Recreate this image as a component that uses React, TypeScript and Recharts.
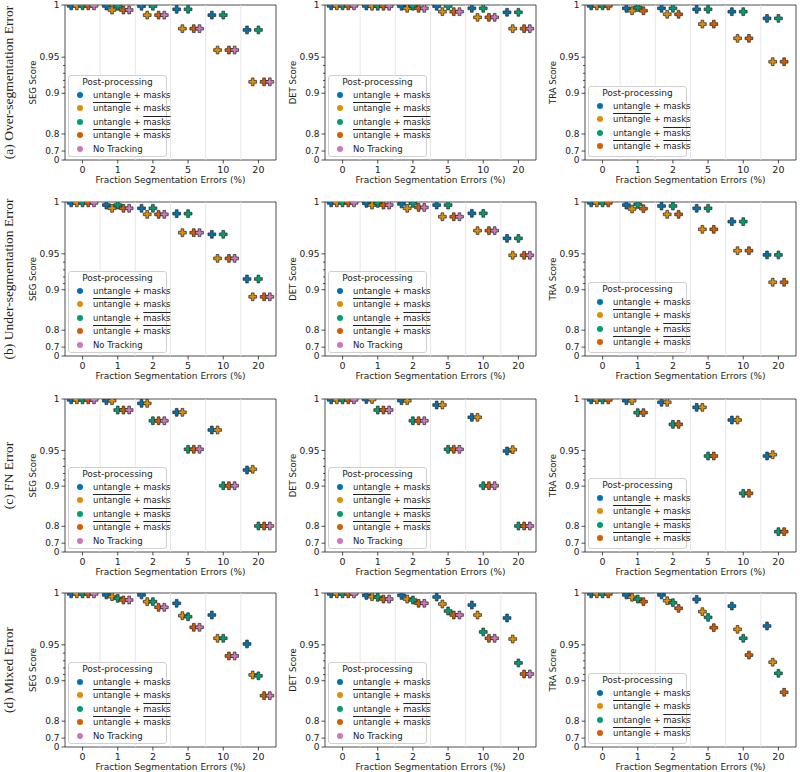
import React from 'react';
import { ScatterChart, Scatter, XAxis, YAxis, ReferenceLine, ReferenceArea, Label, Legend } from 'recharts';

const categories = ['0', '1', '2', '5', '10', '20'];
const seriesLabels = ['untangle + masks', 'untangle + masks', 'untangle + masks', 'untangle + masks', 'No Tracking'];
const overUntangle = [false, true, false, true, false];
const overMasks = [false, false, true, true, false];
const colors = ['#0173b2', '#de8f05', '#029e73', '#d55e00', '#cc78bc'];
const yTickValues = [0, 0.7, 0.8, 0.9, 0.95, 1];
const yMinorTicks = [0.91, 0.92, 0.93, 0.94];
const rowTitles = ['(a) Over-segmentation Error', '(b) Under-segmentation Error', '(c) FN Error', '(d) Mixed Error'];
const metrics = ['SEG', 'DET', 'TRA'];

// each panel: one row per series (blue, orange, green, red, pink), one value per category
const overSEG = [
  [0.9993, 0.9992, 0.999, 0.9965, 0.9916, 0.9783],
  [0.9993, 0.9959, 0.9916, 0.9795, 0.958, 0.918],
  [0.9993, 0.999, 0.999, 0.9965, 0.9916, 0.9783],
  [0.9993, 0.9959, 0.9916, 0.9795, 0.958, 0.918],
  [0.9993, 0.9959, 0.9916, 0.9795, 0.958, 0.918],
];
const overDET = [
  [0.9993, 0.9992, 0.999, 0.999, 0.9973, 0.994],
  [0.9993, 0.999, 0.9973, 0.9945, 0.9897, 0.9795],
  [0.9993, 0.999, 0.999, 0.9992, 0.9973, 0.994],
  [0.9993, 0.999, 0.9973, 0.9945, 0.9897, 0.9795],
  [0.9993, 0.999, 0.9973, 0.9945, 0.9897, 0.9795],
];
const overTRA = [
  [0.9993, 0.9973, 0.9973, 0.9965, 0.9945, 0.9888],
  [0.9993, 0.9953, 0.9923, 0.9837, 0.9702, 0.9446],
  [0.9993, 0.998, 0.9973, 0.9965, 0.9945, 0.9888],
  [0.9993, 0.9953, 0.9923, 0.9837, 0.9702, 0.9446],
];
const underSEG = [
  [0.9993, 0.9975, 0.9948, 0.9902, 0.971, 0.917],
  [0.9993, 0.9948, 0.9896, 0.9726, 0.9446, 0.8874],
  [0.9993, 0.9975, 0.9948, 0.9902, 0.971, 0.917],
  [0.9993, 0.9948, 0.9896, 0.9726, 0.9446, 0.8874],
  [0.9993, 0.9948, 0.9896, 0.9726, 0.9446, 0.8874],
];
const underDET = [
  [0.9993, 0.9989, 0.9984, 0.9975, 0.9905, 0.9669],
  [0.9993, 0.9975, 0.9948, 0.9875, 0.9746, 0.9483],
  [0.9993, 0.9989, 0.9989, 0.9975, 0.9905, 0.9669],
  [0.9993, 0.9975, 0.9955, 0.9875, 0.9746, 0.9483],
  [0.9993, 0.9975, 0.9955, 0.9875, 0.9746, 0.9483],
];
const underTRA = [
  [0.9993, 0.9975, 0.9967, 0.9948, 0.9831, 0.9487],
  [0.9993, 0.9942, 0.9896, 0.9759, 0.9536, 0.9121],
  [0.9993, 0.998, 0.9967, 0.9948, 0.9831, 0.9487],
  [0.9993, 0.9945, 0.9896, 0.9759, 0.9536, 0.9121],
];
const fnSEG = [
  [0.9993, 0.9986, 0.9964, 0.9887, 0.9721, 0.925],
  [0.9993, 0.9986, 0.9964, 0.9887, 0.9721, 0.926],
  [0.9993, 0.9907, 0.981, 0.9514, 0.9007, 0.8013],
  [0.9993, 0.9907, 0.981, 0.9514, 0.9007, 0.8013],
  [0.9993, 0.9907, 0.981, 0.9514, 0.9007, 0.8013],
];
const fnDET = [
  [0.9993, 0.9996, 0.9986, 0.995, 0.9842, 0.9494],
  [0.9993, 0.9996, 0.9986, 0.995, 0.9842, 0.951],
  [0.9993, 0.9907, 0.981, 0.9514, 0.9007, 0.8013],
  [0.9993, 0.9907, 0.981, 0.9514, 0.9007, 0.8013],
  [0.9993, 0.9907, 0.981, 0.9514, 0.9007, 0.8013],
];
const fnTRA = [
  [0.9993, 0.9986, 0.9973, 0.993, 0.9817, 0.9434],
  [0.9993, 0.9986, 0.9973, 0.993, 0.9817, 0.945],
  [0.9993, 0.9884, 0.9776, 0.9434, 0.8871, 0.777],
  [0.9993, 0.9884, 0.9776, 0.9434, 0.8871, 0.777],
];
const mixSEG = [
  [0.9993, 0.9984, 0.9984, 0.9914, 0.9809, 0.951],
  [0.9993, 0.997, 0.9928, 0.9803, 0.9574, 0.9094],
  [0.9993, 0.9956, 0.9928, 0.9793, 0.9574, 0.908],
  [0.9993, 0.9942, 0.9879, 0.969, 0.9364, 0.8717],
  [0.9993, 0.9942, 0.9879, 0.969, 0.9364, 0.8717],
];
const mixDET = [
  [0.9993, 0.998, 0.998, 0.9967, 0.9899, 0.9781],
  [0.9993, 0.997, 0.995, 0.9908, 0.9809, 0.9566],
  [0.9993, 0.9965, 0.9942, 0.9846, 0.9642, 0.9271],
  [0.9993, 0.995, 0.9914, 0.9809, 0.9574, 0.9109],
  [0.9993, 0.995, 0.9914, 0.9809, 0.9574, 0.9109],
];
const mixTRA = [
  [0.9993, 0.9984, 0.9984, 0.9948, 0.989, 0.9703],
  [0.9993, 0.9965, 0.9936, 0.984, 0.9669, 0.9281],
  [0.9993, 0.995, 0.9919, 0.9787, 0.9574, 0.912],
  [0.9993, 0.9928, 0.987, 0.9686, 0.9376, 0.8787],
];

const panels = [
  [overSEG, overDET, overTRA],
  [underSEG, underDET, underTRA],
  [fnSEG, fnDET, fnTRA],
  [mixSEG, mixDET, mixTRA],
];

// y axis is a power scale (score^8), done by transforming values onto a linear axis
const EXP = 8;
const toAxis = (v: number) => Math.pow(v, EXP);
const fromAxis = (t: number) => Math.pow(t, 1 / EXP);

const plotLeft = [65, 325, 585];
const plotW = 211;
const plotTop = [5, 202, 399, 593];
const plotH = [155, 154, 153, 154];
const dodge = 0.162;
const FONT = 'DejaVu Sans';
const INK = '#222';

const Plus = (props: any) => {
  const { cx, cy, fill } = props;
  if (cx == null || cy == null) return null;
  const h = 3.9;
  const t = 1.35;
  const d = `M${cx - t},${cy - h}H${cx + t}V${cy - t}H${cx + h}V${cy + t}H${cx + t}V${cy + h}H${cx - t}V${cy + t}H${cx - h}V${cy - t}H${cx - t}Z`;
  return <path d={d} fill={fill} stroke={INK} strokeWidth={0.7} />;
};

const XTick = ({ x, y, payload }: any) => (
  <g>
    <line x1={x} x2={x} y1={y} y2={y + 3.5} stroke={INK} strokeWidth={0.8} />
    <text x={x} y={y + 13} textAnchor="middle" fontSize={9.5} fontFamily={FONT} fill={INK}>
      {categories[payload.value]}
    </text>
  </g>
);

const YTick = ({ x, y, payload }: any) => {
  const v = fromAxis(payload.value);
  const i = yTickValues.findIndex((t) => Math.abs(t - v) < 1e-4);
  const minor = i < 0;
  return (
    <g>
      <line x1={x - (minor ? 2 : 3.5)} x2={x} y1={y} y2={y} stroke={INK} strokeWidth={0.8} />
      {!minor && (
        <text x={x - 5.5} y={y} dy="0.35em" textAnchor="end" fontSize={9} fontFamily={FONT} fill={INK}>
          {String(yTickValues[i])}
        </text>
      )}
    </g>
  );
};

const LegendBox = ({ n }: { n: number }) => {
  const h = n === 5 ? 82 : 71;
  return (
    <div
      style={{
        position: 'relative',
        width: 99,
        height: h,
        boxSizing: 'border-box',
        border: '1px solid #d0d0d0',
        borderRadius: 3,
        background: 'rgba(255,255,255,0.85)',
        fontFamily: FONT,
        color: INK,
      }}
    >
      <div style={{ position: 'absolute', left: 0, right: 0, top: 1, textAlign: 'center', fontSize: 9, lineHeight: '11px' }}>
        Post-processing
      </div>
      {seriesLabels.slice(0, n).map((lab, i) => {
        const cy = 18.5 + 13.6 * i;
        const parts = lab.split(' + ');
        return (
          <div key={i}>
            <div
              style={{
                position: 'absolute',
                left: 8,
                top: cy - 3,
                width: 6,
                height: 6,
                borderRadius: 3,
                background: colors[i],
              }}
            />
            <div style={{ position: 'absolute', left: 24, top: cy - 6, fontSize: 8.5, lineHeight: '12px', whiteSpace: 'nowrap' }}>
              {parts.length === 1 ? (
                lab
              ) : (
                <>
                  <span style={{ textDecoration: overUntangle[i] ? 'overline' : 'none' }}>{parts[0]}</span>
                  {' + '}
                  <span style={{ textDecoration: overMasks[i] ? 'overline' : 'none' }}>{parts[1]}</span>
                </>
              )}
            </div>
          </div>
        );
      })}
    </div>
  );
};

function Panel({ row, col }: { row: number; col: number }) {
  const values = panels[row][col];
  const yAxisW = col === 0 ? 65 : 45;
  const h = plotH[row];
  const width = yAxisW + plotW + 4;
  const height = 5 + h + 30;
  const n = values.length;
  const boxH = n === 5 ? 82 : 71;

  const series = values.map((vals, s) =>
    vals.map((v, c) => ({ x: c + (s - 2) * dodge, y: toAxis(v) }))
  );

  return (
    <div style={{ position: 'absolute', left: plotLeft[col] - yAxisW, top: plotTop[row] - 5 }}>
      <ScatterChart width={width} height={height} margin={{ top: 5, right: 4, bottom: 0, left: 0 }}>
        <XAxis
          type="number"
          dataKey="x"
          domain={[-0.5, 5.5]}
          ticks={[0, 1, 2, 3, 4, 5]}
          interval={0}
          allowDataOverflow
          height={30}
          tickSize={0}
          tickMargin={0}
          axisLine={false}
          tick={<XTick />}
        >
          <Label
            content={(p: any) => {
              const vb = p.viewBox;
              return (
                <text x={vb.x + vb.width / 2} y={vb.y + 22.5} textAnchor="middle" fontSize={9} fontFamily={FONT} fill={INK}>
                  Fraction Segmentation Errors (%)
                </text>
              );
            }}
          />
        </XAxis>
        <YAxis
          type="number"
          dataKey="y"
          domain={[0, 1]}
          ticks={[...yTickValues, ...yMinorTicks].map(toAxis)}
          interval={0}
          allowDataOverflow
          width={yAxisW}
          tickSize={0}
          tickMargin={0}
          axisLine={false}
          tick={<YTick />}
        >
          <Label
            content={(p: any) => {
              const vb = p.viewBox;
              const right = vb.x + vb.width;
              const cy = vb.y + vb.height / 2;
              return (
                <g>
                  <text
                    x={right - 29}
                    y={cy}
                    transform={`rotate(-90, ${right - 29}, ${cy})`}
                    textAnchor="middle"
                    fontSize={8.5}
                    fontFamily={FONT}
                    fill={INK}
                  >
                    {metrics[col]} Score
                  </text>
                  {col === 0 && (
                    <text
                      x={13}
                      y={cy}
                      transform={`rotate(-90, 13, ${cy})`}
                      textAnchor="middle"
                      fontSize={13.5}
                      fontFamily="Liberation Serif"
                      fill={INK}
                    >
                      {rowTitles[row]}
                    </text>
                  )}
                </g>
              );
            }}
          />
        </YAxis>
        {[0.5, 1.5, 2.5, 3.5, 4.5].map((g) => (
          <ReferenceLine key={g} x={g} stroke="#e4e4e4" strokeWidth={0.9} />
        ))}
        <ReferenceArea x1={-0.5} x2={5.5} y1={0} y2={1} fill="none" stroke={INK} strokeWidth={0.8} ifOverflow="visible" />
        <Legend
          layout="vertical"
          align="center"
          verticalAlign="middle"
          content={() => <LegendBox n={n} />}
          wrapperStyle={{ left: yAxisW + 3, top: 5 + h - 3 - boxH, width: 99, height: boxH }}
        />
        {series.map((pts, s) => (
          <Scatter
            key={s}
            data={pts}
            fill={colors[s]}
            shape={<Plus />}
            isAnimationActive={false}
          />
        ))}
      </ScatterChart>
    </div>
  );
}

export default function App() {
  return (
    <div style={{ position: 'absolute', left: 0, top: 0, width: 800, height: 772, background: '#fff', fontFamily: FONT }}>
      {[0, 1, 2, 3].map((r) => [0, 1, 2].map((c) => <Panel key={`${r}-${c}`} row={r} col={c} />))}
    </div>
  );
}
